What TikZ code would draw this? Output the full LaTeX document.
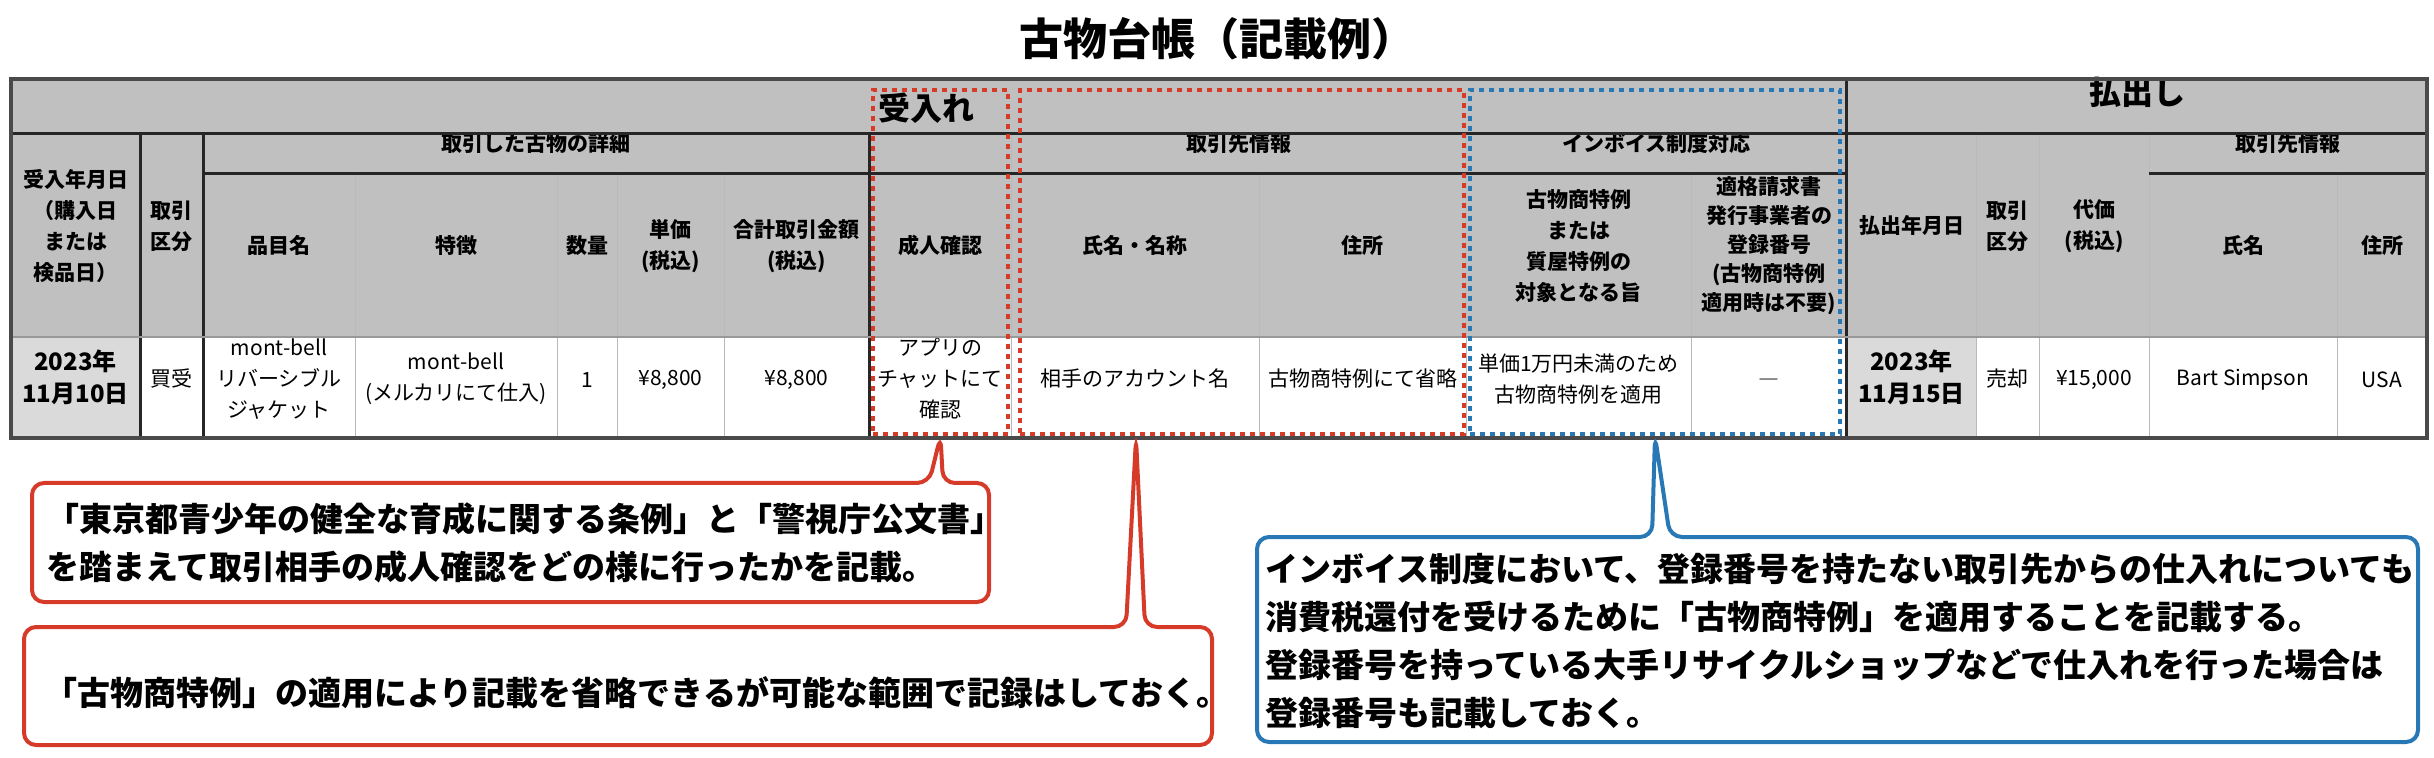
\documentclass[tikz,border=0pt]{standalone}
\usepackage{fontspec}
\setmainfont{Noto Sans CJK JP}
\usepackage{tikz}
\usetikzlibrary{fit,positioning}
\definecolor{hdgray}{HTML}{BFC0BF}
\definecolor{dtgray}{HTML}{DADADA}
\definecolor{rimgray}{HTML}{4A4A4A}
\definecolor{callred}{HTML}{D63B2A}
\definecolor{callblue}{HTML}{2878B5}
\newcommand{\hfont}{\fontsize{10.5}{15.5}\selectfont\bfseries}
\newcommand{\dfont}{\fontsize{10.5}{15.5}\selectfont}
\newcommand{\cfont}{\fontsize{16.5}{24}\selectfont\bfseries}

\begin{document}
\begin{tikzpicture}[
      x=0.5pt, y=-0.5pt,
      cell/.style={draw=gray!55, line width=0.4pt, inner sep=0, align=center},
      hd/.style={cell, fill=hdgray, font=\hfont},
      dt/.style={cell, fill=white, font=\dfont},
      dtg/.style={cell, fill=dtgray, font=\fontsize{12}{16}\selectfont\bfseries},
      rule/.style={draw=black!85, line width=1.3pt},
      rim/.style={draw=rimgray, line width=2pt},
      markred/.style={draw=callred, line width=2pt, dash pattern=on 2.5pt off 2.5pt, inner sep=0},
      markblue/.style={draw=callblue, line width=2pt, dash pattern=on 2.5pt off 2.5pt, inner sep=0},
      callout/.style={line width=2pt, fill=white, rounded corners=6pt},
      ctext/.style={font=\cfont, inner sep=0, anchor=west, align=left}
  ]
  \useasboundingbox (0,0) rectangle (2434,758);
  \node[font=\fontsize{22}{26}\selectfont\bfseries] (title) at (1217,39) {古物台帳（記載例）};

  % top band
  \node[hd, fit={(11,79) (1847,133)}] (inband) {};
  \node[hd, fit={(1847,79) (2427,133)}, font=\fontsize{16}{20}\selectfont\bfseries] (outband) {払出し};
  \node[font=\fontsize{16}{20}\selectfont\bfseries, anchor=west, inner sep=0] (intitle) at (878,108) {受入れ};

  % receiving side
  \node[hd, fit={(11,133) (140,337)}] (indate) {受入年月日\\（購入日\\または\\検品日）};
  \node[hd, fit={(140,133) (203,337)}] (inkind) {取引\\区分};
  \node[hd, fit={(203,133) (869,173)}] (detail) {取引した古物の詳細};
  \node[hd, fit={(203,173) (355,337)}] (item) {品目名};
  \node[hd, fit={(355,173) (557,337)}] (feature) {特徴};
  \node[hd, fit={(557,173) (617,337)}] (qty) {数量};
  \node[hd, fit={(617,173) (724,337)}] (unit) {単価\\(税込)};
  \node[hd, fit={(724,173) (869,337)}] (total) {合計取引金額\\(税込)};
  \node[hd, fit={(869,133) (1011,173)}] (adultb) {};
  \node[hd, fit={(869,173) (1011,337)}] (adult) {成人確認};
  \node[hd, fit={(1011,133) (1466,173)}] (party) {取引先情報};
  \node[hd, fit={(1011,173) (1259,337)}] (pname) {氏名・名称};
  \node[hd, fit={(1259,173) (1466,337)}] (paddr) {住所};
  \node[hd, fit={(1466,133) (1847,173)}] (invoice) {インボイス制度対応};
  \node[hd, fit={(1466,173) (1691,337)}] (special) {古物商特例\\または\\質屋特例の\\対象となる旨};
  \node[hd, fit={(1691,173) (1847,337)}, font=\fontsize{10.5}{14.5}\selectfont\bfseries] (regno) {適格請求書\\発行事業者の\\登録番号\\(古物商特例\\適用時は不要)};

  % paying-out side
  \node[hd, fit={(1847,133) (1976,337)}] (outdate) {払出年月日};
  \node[hd, fit={(1976,133) (2039,337)}] (outkind) {取引\\区分};
  \node[hd, fit={(2039,133) (2149,337)}] (price) {代価\\(税込)};
  \node[hd, fit={(2149,133) (2427,173)}] (oparty) {取引先情報};
  \node[hd, fit={(2149,173) (2337,337)}] (oname) {氏名};
  \node[hd, fit={(2337,173) (2427,337)}] (oaddr) {住所};

  % data row
  \node[dtg, fit={(11,337) (140,438)}] (d1) {2023年\\11月10日};
  \node[dt, fit={(140,337) (203,438)}] (d2) {買受};
  \node[dt, fit={(203,337) (355,438)}] (d3) {mont-bell\\リバーシブル\\ジャケット};
  \node[dt, fit={(355,337) (557,438)}] (d4) {mont-bell\\(メルカリにて仕入)};
  \node[dt, fit={(557,337) (617,438)}] (d5) {1};
  \node[dt, fit={(617,337) (724,438)}] (d6) {¥8,800};
  \node[dt, fit={(724,337) (869,438)}] (d7) {¥8,800};
  \node[dt, fit={(869,337) (1011,438)}] (d8) {アプリの\\チャットにて\\確認};
  \node[dt, fit={(1011,337) (1259,438)}] (d9) {相手のアカウント名};
  \node[dt, fit={(1259,337) (1466,438)}] (d10) {古物商特例にて省略};
  \node[dt, fit={(1466,337) (1691,438)}] (d11) {単価1万円未満のため\\古物商特例を適用};
  \node[dt, fit={(1691,337) (1847,438)}] (d12) {―};
  \node[dtg, fit={(1847,337) (1976,438)}] (d13) {2023年\\11月15日};
  \node[dt, fit={(1976,337) (2039,438)}] (d14) {売却};
  \node[dt, fit={(2039,337) (2149,438)}] (d15) {¥15,000};
  \node[dt, fit={(2149,337) (2337,438)}] (d16) {Bart Simpson};
  \node[dt, fit={(2337,337) (2427,438)}] (d17) {USA};

  % heavy rules
  \draw[rule] (inband.south west) -- (outband.south east);
  \draw[rule] (detail.south west) -- (invoice.south east);
  \draw[rule] (oparty.south west) -- (oparty.south east);
  \draw[rule] (indate.north east) -- (d1.south east);
  \draw[rule] (inkind.north east) -- (d2.south east);
  \draw[rule] (detail.north east) -- (d7.south east);
  \draw[rule] (outband.north west) -- (d13.south west);
  \draw[draw=gray!80, line width=0.9pt] (indate.south west) -- (oaddr.south east);
  \draw[rim] (inband.north west) rectangle (d17.south east);

  % dashed marks
  \node[markred, fit={(873,90) (1008,434)}] (markadult) {};
  \node[markred, fit={(1020,90) (1464,434)}] (markparty) {};
  \node[markblue, fit={(1470,90) (1840,434)}] (markinv) {};
  \coordinate (tipparty) at (1136,438);

  % callouts
  \draw[callout, draw=callred] (929,483) -- (markadult.south) -- (943,483) -- (989,483)
    -- (989,602) -- (32,602) -- (32,483) -- cycle;
  \node[ctext] (noteadult) at (46,543) {「東京都青少年の健全な育成に関する条例」と「警視庁公文書」\\を踏まえて取引相手の成人確認をどの様に行ったかを記載。};
  \draw[callout, draw=callred] (1126,627) -- (tipparty) -- (1145,627) -- (1212,627)
    -- (1212,745) -- (24,745) -- (24,627) -- cycle;
  \node[ctext] (noteparty) at (44,693) {「古物商特例」の適用により記載を省略できるが可能な範囲で記録はしておく。};
  \draw[callout, draw=callblue] (1652,537) -- (markinv.south) -- (1670,537) -- (2418,537)
    -- (2418,742) -- (1257,742) -- (1257,537) -- cycle;
  \node[ctext] (noteinv) at (1265,641) {インボイス制度において、登録番号を持たない取引先からの仕入れについても\\消費税還付を受けるために「古物商特例」を適用することを記載する。\\登録番号を持っている大手リサイクルショップなどで仕入れを行った場合は\\登録番号も記載しておく。};
\end{tikzpicture}
\end{document}
